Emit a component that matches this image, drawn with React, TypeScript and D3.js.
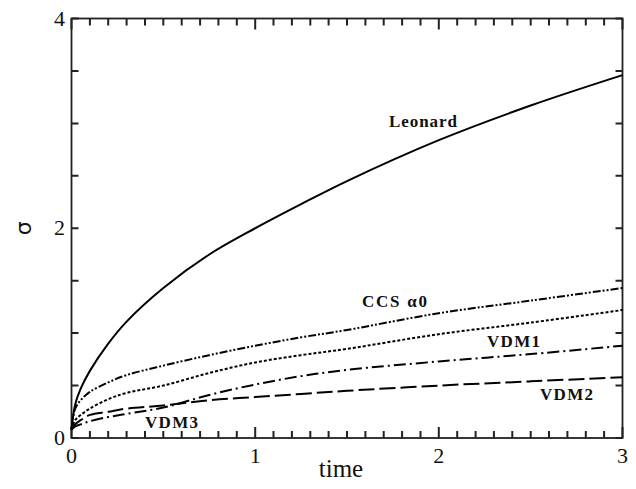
import React from 'react';
import * as d3 from 'd3';

const times = [0, 0.02, 0.05, 0.1, 0.2, 0.3, 0.5, 0.75, 1, 1.25, 1.5, 2, 2.5, 3];
const leonard = [0.08, 0.32, 0.47, 0.64, 0.9, 1.11, 1.43, 1.75, 2.0, 2.23, 2.45, 2.84, 3.17, 3.46];
const ccsAlpha0 = [0.08, 0.28, 0.36, 0.44, 0.53, 0.6, 0.69, 0.79, 0.88, 0.96, 1.03, 1.19, 1.31, 1.43];
const vdm1 = [0.08, 0.17, 0.22, 0.28, 0.37, 0.43, 0.5, 0.62, 0.72, 0.79, 0.85, 0.99, 1.1, 1.22];
const vdm3 = [0.08, 0.11, 0.13, 0.16, 0.2, 0.23, 0.29, 0.41, 0.51, 0.59, 0.65, 0.73, 0.8, 0.88];
const vdm2 = [0.08, 0.13, 0.17, 0.22, 0.25, 0.28, 0.31, 0.36, 0.39, 0.42, 0.45, 0.5, 0.54, 0.58];

const xTickLabels = [0, 1, 2, 3];
const yTickLabels = [0, 2, 4];
const xMinorSteps = [0, 1, 2, 3, 4, 5, 6, 7, 8, 9, 10, 11, 12, 13, 14, 15, 16, 17, 18, 19, 20, 21, 22, 23, 24, 25, 26, 27, 28, 29, 30];
const yMinorSteps = [0, 1, 2, 3, 4, 5, 6, 7, 8];

const series = [
  { name: 'Leonard', values: leonard, dash: 'none' },
  { name: 'CCS α0', values: ccsAlpha0, dash: '8,2,2,2,2,2' },
  { name: 'VDM1', values: vdm1, dash: '3,2' },
  { name: 'VDM3', values: vdm3, dash: '12,4,2,4' },
  { name: 'VDM2', values: vdm2, dash: '16,5' },
];

export default function App() {
  const W = 636, H = 489;
  const x = d3.scaleLinear().domain([0, 3]).range([71.5, 622.5]);
  const y = d3.scaleLinear().domain([0, 4]).range([438, 18.5]);
  const curveGen = d3.line<number>()
    .x((_, i) => x(times[i]))
    .y((d) => y(d))
    .curve(d3.curveCatmullRom.alpha(0.5));
  const axisColor = '#222';
  const serif = '"Liberation Serif", "Times New Roman", serif';

  const x0 = x(0), x3 = x(3), yb = y(0), yt = y(4);
  let tickPath = '';
  xMinorSteps.forEach((k) => {
    const len = k % 10 === 0 ? 11 : 7;
    const px = Math.round(x(k / 10) * 10) / 10;
    tickPath += 'M' + px + ' ' + yb + ' L' + px + ' ' + (yb - len) + ' ';
    tickPath += 'M' + px + ' ' + yt + ' L' + px + ' ' + (yt + len) + ' ';
  });
  yMinorSteps.forEach((k) => {
    const py = Math.round(y(k / 2) * 10) / 10;
    tickPath += 'M' + x0 + ' ' + py + ' L' + (x0 + 7) + ' ' + py + ' ';
    tickPath += 'M' + x3 + ' ' + py + ' L' + (x3 - 7) + ' ' + py + ' ';
  });

  return (
    <div style={{ position: 'absolute', left: 0, top: 0 }}>
      <svg width={W} height={H} style={{ display: 'block', background: '#fff' }}>
        <path d={tickPath} fill="none" stroke={axisColor} strokeWidth={2} />
        <rect x={x0} y={yt} width={x3 - x0} height={yb - yt} fill="none" stroke={axisColor} strokeWidth={1.8} />
        {xTickLabels.map((t) => (
          <text key={'xl' + t} x={x(t)} y={463} textAnchor="middle" fontFamily={serif} fontSize={22} fill="#111">{t}</text>
        ))}
        {yTickLabels.map((v) => (
          <text key={'yl' + v} x={65} y={y(v) + 7} textAnchor="end" fontFamily={serif} fontSize={22} fill="#111">{v}</text>
        ))}
        <text x={341} y={477} textAnchor="middle" fontFamily={serif} fontSize={25} fill="#111">time</text>
        <text transform={`translate(31, ${y(2)}) rotate(-90)`} textAnchor="middle" fontFamily='"DejaVu Sans", sans-serif' fontSize={22} fill="#111">σ</text>
        {series.map((s) => (
          <path key={s.name} d={curveGen(s.values) || ''} fill="none" stroke="#000" strokeWidth={2}
            strokeDasharray={s.dash === 'none' ? undefined : s.dash} />
        ))}
        <g fontFamily={serif} fontWeight="bold" fontSize={17} fill="#111">
          <text x={389} y={127} textLength={68} lengthAdjust="spacing">Leonard</text>
          <text x={362} y={307} textLength={65} lengthAdjust="spacing">CCS α0</text>
          <text x={487} y={347} textLength={53} lengthAdjust="spacing">VDM1</text>
          <text x={540} y={400} textLength={53} lengthAdjust="spacing">VDM2</text>
          <text x={145} y={428} textLength={53} lengthAdjust="spacing">VDM3</text>
        </g>
      </svg>
    </div>
  );
}
